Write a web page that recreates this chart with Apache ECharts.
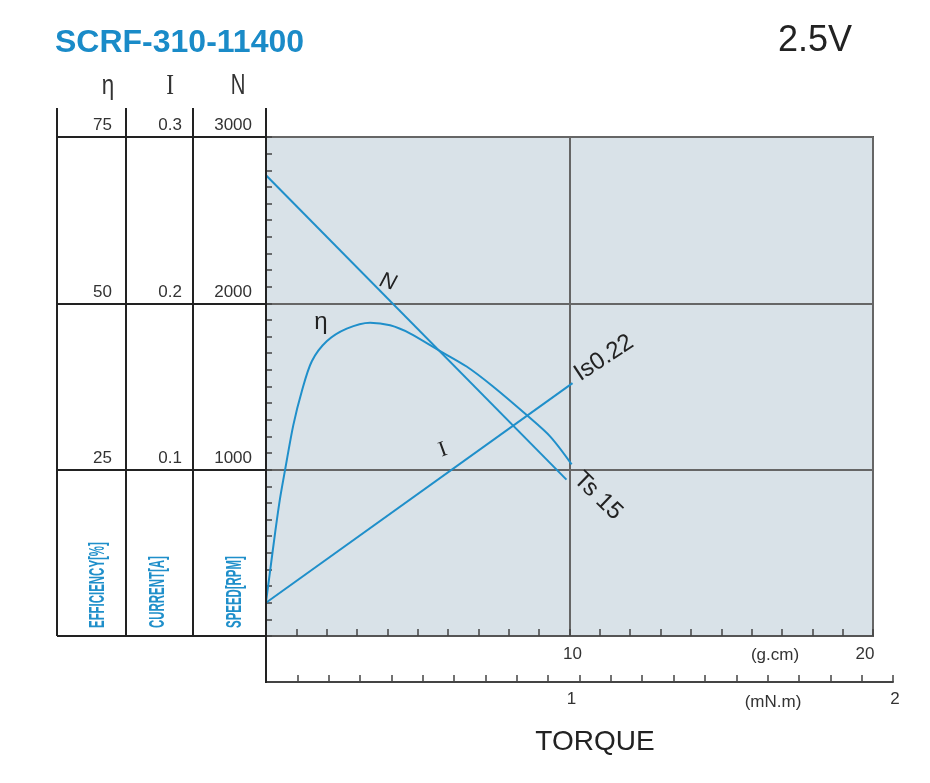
<!DOCTYPE html>
<html>
<head>
<meta charset="utf-8">
<script src="https://cdn.jsdelivr.net/npm/echarts@6/dist/echarts.min.js"></script>
<style>
html,body{margin:0;padding:0;background:#fff;}
#chart{width:930px;height:783px;}
</style>
</head>
<body>
<div id="chart"></div>
<script>
// ---- data ----
const speedTorque = [0, 9.9];          // g.cm
const speedRpm = [2770, 940];          // r/min
const currentTorque = [0, 10.1];       // g.cm
const currentAmp = [0.020, 0.152];     // A
const effTorque = [0, 0.13, 0.30, 0.46, 0.63, 0.90, 1.18, 1.51, 2.0, 2.66, 3.43, 4.09, 4.74, 5.67, 6.61, 7.48, 8.59, 9.36, 10.07];
const effPct =    [5.1, 9.6, 15.5, 20.6, 25.0, 31.7, 36.8, 41.3, 44.3, 46.2, 47.1, 46.7, 45.5, 43.0, 40.5, 37.5, 33.2, 30.0, 25.8];
const torqueGcmTicks = ['10', '20'];
const torqueMnmTicks = ['1', '2'];

const BLUE = '#1f8fca';
const zip = (a, b) => a.map((v, i) => [v, b[i]]);

const chart = echarts.init(document.getElementById('chart'), null, {renderer: 'canvas'});
const FONT = '"Liberation Sans", Arial, sans-serif';
const labelBase = {fontFamily: FONT, fontSize: 17, color: '#333', verticalAlign: 'bottom', padding: [0, 0, 3, 0]};
const hideZero = v => (v === 0 ? '' : String(v));

function vline(x, y1, y2, w) {
  return {type: 'line', shape: {x1: x, y1: y1, x2: x, y2: y2}, style: {stroke: '#222', lineWidth: w || 2}, z: 10};
}
function txt(x, y, text, opt) {
  return Object.assign({type: 'text', x: x, y: y, z: 20,
    style: Object.assign({text: text, fill: '#222', fontFamily: FONT, align: 'center', verticalAlign: 'middle'}, opt.style || {})},
    opt.el || {});
}

const option = {
  backgroundColor: '#fff',
  animation: false,
  title: [
    {text: 'SCRF-310-11400', left: 50, top: 22,
     textStyle: {fontFamily: FONT, fontSize: 32, fontWeight: 'bold', color: '#1a8bc8'}},
    {text: '2.5V', right: 73, top: 18,
     textStyle: {fontFamily: FONT, fontSize: 36, fontWeight: 'normal', color: '#222'}}
  ],
  grid: [
    {left: 266, width: 607, top: 137, height: 499, show: true, backgroundColor: '#d9e2e8', borderColor: '#555', borderWidth: 2, z: 0},
    {left: 57, width: 209, top: 137, height: 499, show: false},
    {left: 266, width: 627, top: 640, height: 42, show: false}
  ],
  xAxis: [
    {gridIndex: 0, type: 'value', min: 0, max: 20, interval: 10, position: 'bottom',
     axisLine: {show: true, lineStyle: {color: '#555', width: 2}},
     axisTick: {show: true, inside: true, length: 7, lineStyle: {color: '#444', width: 1.5}},
     minorTick: {show: true, splitNumber: 10, length: 7, lineStyle: {color: '#444', width: 1.5}},
     splitLine: {show: true, lineStyle: {color: '#666', width: 2}},
     axisLabel: {margin: 10, fontFamily: FONT, fontSize: 17, color: '#333',
       formatter: v => {
         if (v === 10) return '{a|' + torqueGcmTicks[0] + '}';
         if (v === 20) return '{b|' + torqueGcmTicks[1] + '}';
         return '';
       },
       rich: {a: {fontFamily: FONT, fontSize: 17, color: '#333', padding: [0, 0, 0, 6]},
              b: {fontFamily: FONT, fontSize: 17, color: '#333', padding: [0, 16, 0, 0]}}}
    },
    {gridIndex: 1, type: 'value', min: 0, max: 1, show: false},
    {gridIndex: 2, type: 'value', min: 0, max: 2, interval: 1, position: 'bottom',
     axisLine: {show: true, lineStyle: {color: '#444', width: 2}},
     axisTick: {show: true, inside: true, length: 7, lineStyle: {color: '#444', width: 1.5}},
     minorTick: {show: true, splitNumber: 10, length: 7, lineStyle: {color: '#444', width: 1.5}},
     splitLine: {show: false},
     axisLabel: {margin: 9, fontFamily: FONT, fontSize: 17, color: '#333',
       formatter: v => {
         if (v === 1) return '{a|' + torqueMnmTicks[0] + '}';
         if (v === 2) return '{b|' + torqueMnmTicks[1] + '}';
         return '';
       },
       rich: {a: {fontFamily: FONT, fontSize: 17, color: '#333', padding: [0, 16, 0, 0]},
              b: {fontFamily: FONT, fontSize: 17, color: '#333', padding: [0, 0, 0, 4]}}}
    }
  ],
  yAxis: [
    {gridIndex: 0, type: 'value', min: 0, max: 3000, interval: 1000, position: 'left', offset: 0,
     axisLine: {show: true, lineStyle: {color: '#555', width: 2}},
     axisTick: {show: true, inside: true, length: 6, lineStyle: {color: '#444', width: 1.5}},
     minorTick: {show: true, splitNumber: 10, length: 6, lineStyle: {color: '#444', width: 1.5}},
     splitLine: {show: true, lineStyle: {color: '#666', width: 2}},
     axisLabel: Object.assign({margin: 14, formatter: hideZero}, labelBase)},
    {gridIndex: 0, type: 'value', min: 0, max: 0.3, interval: 0.1, position: 'left', offset: 73,
     axisLine: {show: true, lineStyle: {color: '#222', width: 2}},
     axisTick: {show: false}, splitLine: {show: false},
     axisLabel: Object.assign({margin: 11, formatter: v => (v === 0 ? '' : v.toFixed(1))}, labelBase)},
    {gridIndex: 0, type: 'value', min: 0, max: 75, interval: 25, position: 'left', offset: 140,
     axisLine: {show: true, lineStyle: {color: '#222', width: 2}},
     axisTick: {show: false}, splitLine: {show: false},
     axisLabel: Object.assign({margin: 14, formatter: hideZero}, labelBase)},
    {gridIndex: 1, type: 'value', min: 0, max: 3000, interval: 1000,
     axisLine: {show: false}, axisTick: {show: false}, axisLabel: {show: false},
     splitLine: {show: true, lineStyle: {color: '#222', width: 2}}},
    {gridIndex: 2, type: 'value', min: 0, max: 1, show: false}
  ],
  series: [
    {name: 'N', type: 'line', xAxisIndex: 0, yAxisIndex: 0, data: zip(speedTorque, speedRpm),
     showSymbol: false, lineStyle: {color: BLUE, width: 2}, z: 5},
    {name: 'I', type: 'line', xAxisIndex: 0, yAxisIndex: 1, data: zip(currentTorque, currentAmp),
     showSymbol: false, lineStyle: {color: BLUE, width: 2}, z: 5},
    {name: 'η', type: 'line', xAxisIndex: 0, yAxisIndex: 2, data: zip(effTorque, effPct),
     smooth: 0.3, showSymbol: false, lineStyle: {color: BLUE, width: 2}, z: 5}
  ],
  graphic: [
    vline(57, 108, 636), vline(126, 108, 637), vline(193, 108, 637), vline(266, 108, 683),
    // column headers
    txt(108, 86, 'η', {style: {fontSize: 28, fill: '#333'}, el: {scaleX: 0.8}}),
    txt(170, 86, 'I', {style: {fontSize: 29, fill: '#333', fontFamily: '"Liberation Serif", serif'}, el: {scaleX: 0.8}}),
    txt(238, 86, 'N', {style: {fontSize: 29, fill: '#333'}, el: {scaleX: 0.7}}),
    // vertical axis names
    txt(98, 628, 'EFFICIENCY[%]', {style: {fontSize: 22, fontWeight: 'bold', fill: BLUE, align: 'left'}, el: {rotation: Math.PI / 2, scaleX: 0.52}}),
    txt(158, 628, 'CURRENT[A]', {style: {fontSize: 22, fontWeight: 'bold', fill: BLUE, align: 'left'}, el: {rotation: Math.PI / 2, scaleX: 0.52}}),
    txt(235, 628, 'SPEED[RPM]', {style: {fontSize: 22, fontWeight: 'bold', fill: BLUE, align: 'left'}, el: {rotation: Math.PI / 2, scaleX: 0.52}}),
    // curve labels
    txt(388, 282, 'N', {style: {fontSize: 22, fontStyle: 'italic', fill: '#222'}, el: {rotation: -0.3}}),
    txt(321, 322, 'η', {style: {fontSize: 24, fill: '#222'}}),
    txt(443, 450, 'I', {style: {fontSize: 22, fill: '#222', fontFamily: '"Liberation Serif", serif'}, el: {rotation: 0.35}}),
    txt(604, 358, 'Is0.22', {style: {fontSize: 24, fill: '#222'}, el: {rotation: 0.58}}),
    txt(598, 496, 'Ts 15', {style: {fontSize: 24, fill: '#222'}, el: {rotation: -0.77}}),
    // axis units
    txt(775, 655, '(g.cm)', {style: {fontSize: 17, fill: '#333'}}),
    txt(773, 702, '(mN.m)', {style: {fontSize: 17, fill: '#333'}}),
    txt(595, 742, 'TORQUE', {style: {fontSize: 28, fill: '#222'}})
  ]
};
chart.setOption(option);
</script>
</body>
</html>
